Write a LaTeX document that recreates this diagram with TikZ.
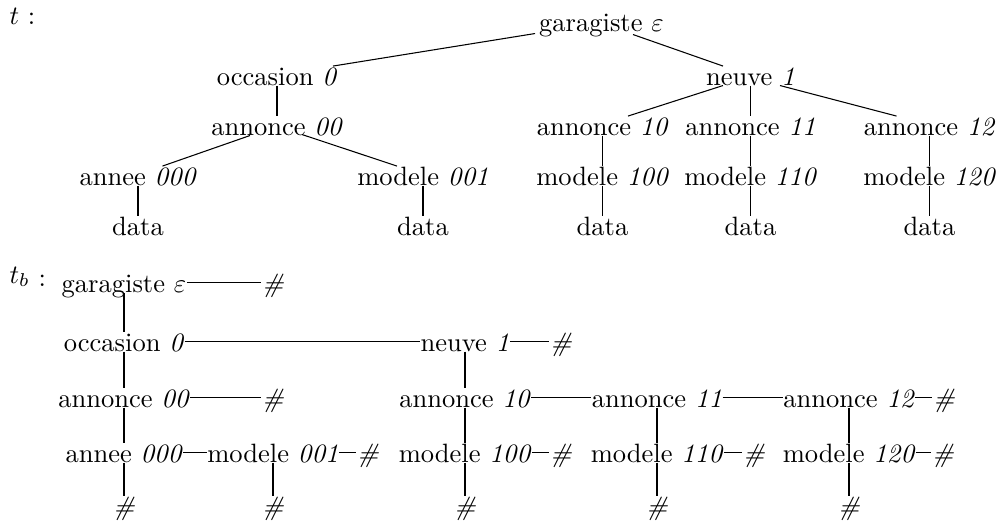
\documentclass[tikz,border=0pt]{standalone}
\usetikzlibrary{calc}
\begin{document}
\begin{tikzpicture}[x=0.377pt,y=-0.377pt,
  lbl/.style={inner sep=0pt,text height=6.94pt,text depth=0pt,anchor=base},
  conn/.style={line width=0.4pt}]
\useasboundingbox (0,0) rectangle (998,524);
% ---------- tree t ----------
\node[lbl,anchor=base west] (t) at (9,24) {$t$ :};
\node[lbl] (g) at (601.5,31) {garagiste $\varepsilon$};
\node[lbl] (o) at (277,85) {occasion \textit{0}};
\node[lbl] (n) at (750.5,85) {neuve \textit{1}};
\node[lbl] (a00) at (277,135) {annonce \textit{00}};
\node[lbl] (a10) at (602.5,135) {annonce \textit{10}};
\node[lbl] (a11) at (750.5,135) {annonce \textit{11}};
\node[lbl] (a12) at (929.5,135) {annonce \textit{12}};
\node[lbl] (y000) at (138,185) {annee \textit{000}};
\node[lbl] (m001) at (423,185) {modele \textit{001}};
\node[lbl] (m100) at (602.5,185) {modele \textit{100}};
\node[lbl] (m110) at (750.5,185) {modele \textit{110}};
\node[lbl] (m120) at (929.5,185) {modele \textit{120}};
\node[lbl] (d1) at (138,235) {data};
\node[lbl] (d2) at (423,235) {data};
\node[lbl] (d3) at (602.5,235) {data};
\node[lbl] (d4) at (750.5,235) {data};
\node[lbl] (d5) at (929.5,235) {data};
\draw[conn] ($(g.south)+(-66.5,2)$) -- ($(o.north)+(56,0)$);
\draw[conn] ($(g.south)+(31.5,3)$) -- ($(n.north)+(-27.5,0)$);
\draw[conn] (o.south) -- (a00.north);
\draw[conn] ($(n.south)+(-27.5,0)$) -- ($(a10.north)+(25.5,0)$);
\draw[conn] (n.south) -- (a11.north);
\draw[conn] ($(n.south)+(29.5,0)$) -- ($(a12.north)+(-33,0)$);
\draw[conn] ($(a00.south)+(-27,0)$) -- ($(y000.north)+(24.5,0)$);
\draw[conn] ($(a00.south)+(25,-1)$) -- ($(m001.north)+(-26,0)$);
\draw[conn] (y000.south) -- (d1.north);
\draw[conn] (m001.south) -- (d2.north);
\draw[conn] (a10.south) -- (m100.north);
\draw[conn] (m100.south) -- (d3.north);
\draw[conn] (a11.south) -- (m110.north);
\draw[conn] (m110.south) -- (d4.north);
\draw[conn] (a12.south) -- (m120.north);
\draw[conn] (m120.south) -- (d5.north);
% ---------- tree t_b ----------
\node[lbl,anchor=base west] (tb) at (9,283) {$t_b$ \raisebox{-1.5pt}{:}};
\node[lbl] (gb) at (124,292) {garagiste $\varepsilon$};
\node[lbl] (h1) at (273,292) {\textit{\#}};
\node[lbl] (ob) at (124,351) {occasion \textit{0}};
\node[lbl] (nb) at (465,351) {neuve \textit{1}};
\node[lbl] (h2) at (561,351) {\textit{\#}};
\node[lbl] (a00b) at (124,407) {annonce \textit{00}};
\node[lbl] (h3) at (273,407) {\textit{\#}};
\node[lbl] (a10b) at (465,407) {annonce \textit{10}};
\node[lbl] (a11b) at (657,407) {annonce \textit{11}};
\node[lbl] (a12b) at (849,407) {annonce \textit{12}};
\node[lbl] (h4) at (944,407) {\textit{\#}};
\node[lbl] (y000b) at (124,462) {annee \textit{000}};
\node[lbl] (m001b) at (273,462) {modele \textit{001}};
\node[lbl] (h5) at (368,462) {\textit{\#}};
\node[lbl] (m100b) at (465,462) {modele \textit{100}};
\node[lbl] (h6) at (561,462) {\textit{\#}};
\node[lbl] (m110b) at (657,462) {modele \textit{110}};
\node[lbl] (h7) at (754,462) {\textit{\#}};
\node[lbl] (m120b) at (849,462) {modele \textit{120}};
\node[lbl] (h8) at (943,462) {\textit{\#}};
\node[lbl] (h9) at (124,515) {\textit{\#}};
\node[lbl] (h10) at (273,515) {\textit{\#}};
\node[lbl] (h11) at (465,515) {\textit{\#}};
\node[lbl] (h12) at (657,515) {\textit{\#}};
\node[lbl] (h13) at (849,515) {\textit{\#}};
% vertical (first child)
\draw[conn] (gb.south) -- (ob.north);
\draw[conn] (ob.south) -- (a00b.north);
\draw[conn] (a00b.south) -- (y000b.north);
\draw[conn] (y000b.south) -- (h9.north);
\draw[conn] (m001b.south) -- (h10.north);
\draw[conn] (nb.south) -- (a10b.north);
\draw[conn] (a10b.south) -- (m100b.north);
\draw[conn] (m100b.south) -- (h11.north);
\draw[conn] (a11b.south) -- (m110b.north);
\draw[conn] (m110b.south) -- (h12.north);
\draw[conn] (a12b.south) -- (m120b.north);
\draw[conn] (m120b.south) -- (h13.north);
% horizontal (next sibling)
\draw[conn] (gb.east) -- (h1.west);
\draw[conn] (ob.east) -- (nb.west);
\draw[conn] (nb.east) -- (h2.west);
\draw[conn] (a00b.east) -- (h3.west);
\draw[conn] (a10b.east) -- (a11b.west);
\draw[conn] (a11b.east) -- (a12b.west);
\draw[conn] (a12b.east) -- (h4.west);
\draw[conn] (y000b.east) -- (m001b.west);
\draw[conn] (m001b.east) -- (h5.west);
\draw[conn] (m100b.east) -- (h6.west);
\draw[conn] (m110b.east) -- (h7.west);
\draw[conn] (m120b.east) -- (h8.west);
\end{tikzpicture}
\end{document}
